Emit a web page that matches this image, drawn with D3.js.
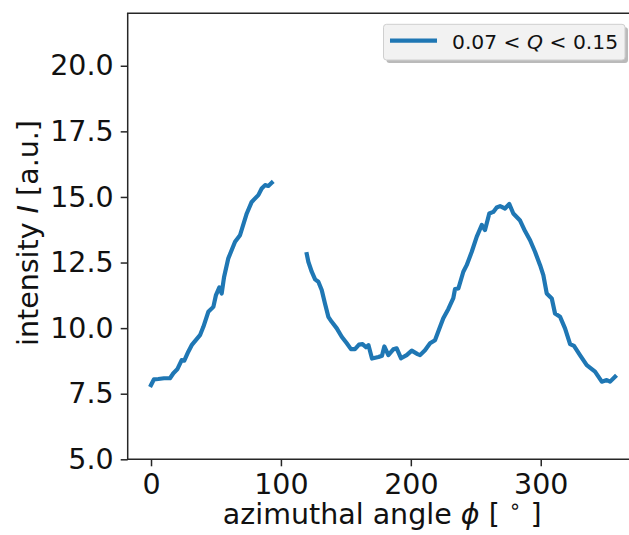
<!DOCTYPE html>
<html>
<head>
<meta charset="utf-8">
<script src="https://cdn.jsdelivr.net/npm/d3@7"></script>
<style>
  body { margin: 0; background: #fff; }
  svg { display: block; font-family: "DejaVu Sans", sans-serif; }
</style>
</head>
<body>
<svg width="629" height="535"></svg>
<script>
// azimuthal profile, 0.07 < Q < 0.15 (gap around 95..118 deg has no data)
const phi = [0, 2.3, 5.6, 10, 14.6, 17.2, 20.2, 23.6, 25.6, 28.7, 31.3, 37.7, 40.3, 44.1, 48, 50, 52.6, 54.4, 56.2, 59.5,
  64.7, 68.5, 73.7, 77.5, 82.6, 85.2, 87.8, 90.3, 92.9, 106,
  119.9, 121.1, 123.7, 126.3, 128.8, 131.4, 133.9, 136.5, 139.1, 143, 146.8, 150.7, 153.9, 157, 160.1, 162.8, 165.5, 167.4,
  170.1, 175.1, 177.8, 179.6, 182.7, 186.5, 189.1, 192.5, 196.8, 200.7, 205.2, 207.1, 210.9, 214.8, 218.6, 222.5, 225,
  228.9, 232.7, 234, 236.6, 240.4, 243, 246.9, 250.7, 254.6, 257.1, 260.4, 263.5, 266.1, 268.7, 272.5, 275.8, 278.9,
  284.1, 287.9, 291.8, 295.6, 299.5, 302, 304.6, 308.5, 311, 314.9, 318.7, 322.6, 325.6, 330.2, 335.4, 341.8, 347,
  350.8, 353.4, 357.2];
const intensity = [7.83, 8.05, 8.06, 8.09, 8.09, 8.28, 8.43, 8.78, 8.76, 9.1, 9.35, 9.73, 10.05, 10.62, 10.81, 11.26, 11.55, 11.32, 11.94, 12.66,
  13.29, 13.54, 14.37, 14.81, 15.07, 15.32, 15.45, 15.42, 15.54, null,
  12.82, 12.53, 12.15, 11.86, 11.77, 11.45, 10.94, 10.43, 10.24, 9.99, 9.67, 9.42, 9.2, 9.2, 9.37, 9.39, 9.27, 9.35,
  8.84, 8.9, 8.95, 9.3, 8.97, 9.19, 9.23, 8.85, 8.97, 9.14, 9.01, 8.97, 9.16, 9.42, 9.54, 10.05, 10.38,
  10.73, 11.14, 11.49, 11.51, 12.15, 12.4, 12.91, 13.48, 13.93, 13.74, 14.37, 14.43, 14.6, 14.65, 14.56, 14.73, 14.37,
  14.1, 13.7, 13.35, 12.91, 12.4, 12.02, 11.32, 11.13, 10.56, 10.43, 9.99, 9.39, 9.32, 8.97, 8.59, 8.34, 7.96,
  8.02, 7.96, 8.15];

const xTicks = [0, 100, 200, 300];
const yTicks = [5.0, 7.5, 10.0, 12.5, 15.0, 17.5, 20.0];
const seriesLabel = "0.07 < Q < 0.15";

function run() {
  const svg = d3.select("svg");
  const W = 629;
  const mLeft = 127.7, mTop = 13.3, mBottom = 459.3, mRight = 640.7;
  const blue = "#1f77b4", ink = "#262626";

  let x = d3.scaleLinear().domain([-17.95, 376.95]).range([mLeft, mRight]);
  let y = d3.scaleLinear().domain([5, 22]).range([mBottom, mTop]);

  svg.append("clipPath").attr("id", "plot")
    .append("rect").attr("x", mLeft).attr("y", mTop).attr("width", mRight - mLeft).attr("height", mBottom - mTop);

  let pts = phi.map((p, i) => ({p: p, v: intensity[i]}));
  let line = d3.line()
    .defined(d => d.v != null)
    .x(d => x(d.p))
    .y(d => y(d.v));

  svg.append("path")
    .datum(pts)
    .attr("clip-path", "url(#plot)")
    .attr("d", line)
    .attr("fill", "none")
    .attr("stroke", blue)
    .attr("stroke-width", 4.2)
    .attr("stroke-linejoin", "round")
    .attr("stroke-linecap", "square");

  // axes
  let xAxis = d3.axisBottom(x).tickValues(xTicks).tickSize(7).tickPadding(7).tickFormat(d3.format("d"));
  let yAxis = d3.axisLeft(y).tickValues(yTicks).tickSize(7).tickPadding(7).tickFormat(d3.format(".1f"));

  let gx = svg.append("g").attr("transform", `translate(0,${mBottom})`).call(xAxis);
  let gy = svg.append("g").attr("transform", `translate(${mLeft},0)`).call(yAxis);
  [gx, gy].forEach(g => {
    g.select(".domain").remove();
    g.selectAll(".tick line").attr("stroke", ink).attr("stroke-width", 1.5);
    g.selectAll(".tick text").attr("fill", "#111").style("font-size", "28.5px")
      .style("font-family", "'DejaVu Sans', sans-serif");
  });
  gx.selectAll(".tick text").attr("dy", "0.71em");

  // spines
  let spine = svg.append("g").attr("stroke", ink).attr("stroke-width", 1.5).attr("fill", "none");
  spine.append("line").attr("x1", mLeft).attr("x2", mLeft).attr("y1", mTop).attr("y2", mBottom);
  spine.append("line").attr("x1", mLeft - 0.75).attr("x2", W).attr("y1", mBottom).attr("y2", mBottom);
  spine.append("line").attr("x1", mLeft - 0.75).attr("x2", W).attr("y1", mTop).attr("y2", mTop);

  // axis labels
  let xl = svg.append("text")
    .attr("x", (mLeft + mRight) / 2 - 2).attr("y", 523.5)
    .attr("text-anchor", "middle")
    .style("font-size", "28.5px").attr("fill", "#111");
  xl.append("tspan").text("azimuthal angle ");
  xl.append("tspan").attr("font-style", "italic").text("ϕ");
  xl.append("tspan").text(" [ ");
  xl.append("tspan").style("font-size", "20px").attr("dy", -11).text("∘");
  xl.append("tspan").attr("dy", 11).text(" ]");

  let yl = svg.append("text")
    .attr("transform", "translate(38,233) rotate(-90)")
    .attr("text-anchor", "middle")
    .style("font-size", "28.5px").attr("fill", "#111");
  yl.append("tspan").text("intensity ");
  yl.append("tspan").attr("font-style", "italic").text("I");
  yl.append("tspan").text(" [a.u.]");

  // legend with shadow
  let lg = svg.append("g");
  lg.append("rect").attr("x", 386.5).attr("y", 27.3).attr("width", 241.5).attr("height", 35.7)
    .attr("rx", 3).attr("fill", "#8c8c8c").attr("opacity", 0.6);
  lg.append("rect").attr("x", 383.5).attr("y", 24.3).attr("width", 241.5).attr("height", 35.7)
    .attr("rx", 3).attr("fill", "#f2f2f2").attr("stroke", "#cfcfcf").attr("stroke-width", 1);
  lg.append("line").attr("x1", 390).attr("x2", 437).attr("y1", 40.7).attr("y2", 40.7)
    .attr("stroke", blue).attr("stroke-width", 4.2);
  let lt = lg.append("text").attr("x", 452).attr("y", 49).style("font-size", "20.3px").attr("fill", "#111");
  let parts = seriesLabel.split("Q");
  lt.append("tspan").text(parts[0]);
  lt.append("tspan").attr("font-style", "italic").text("Q");
  lt.append("tspan").text(parts[1]);
}

run();
</script>
</body>
</html>
